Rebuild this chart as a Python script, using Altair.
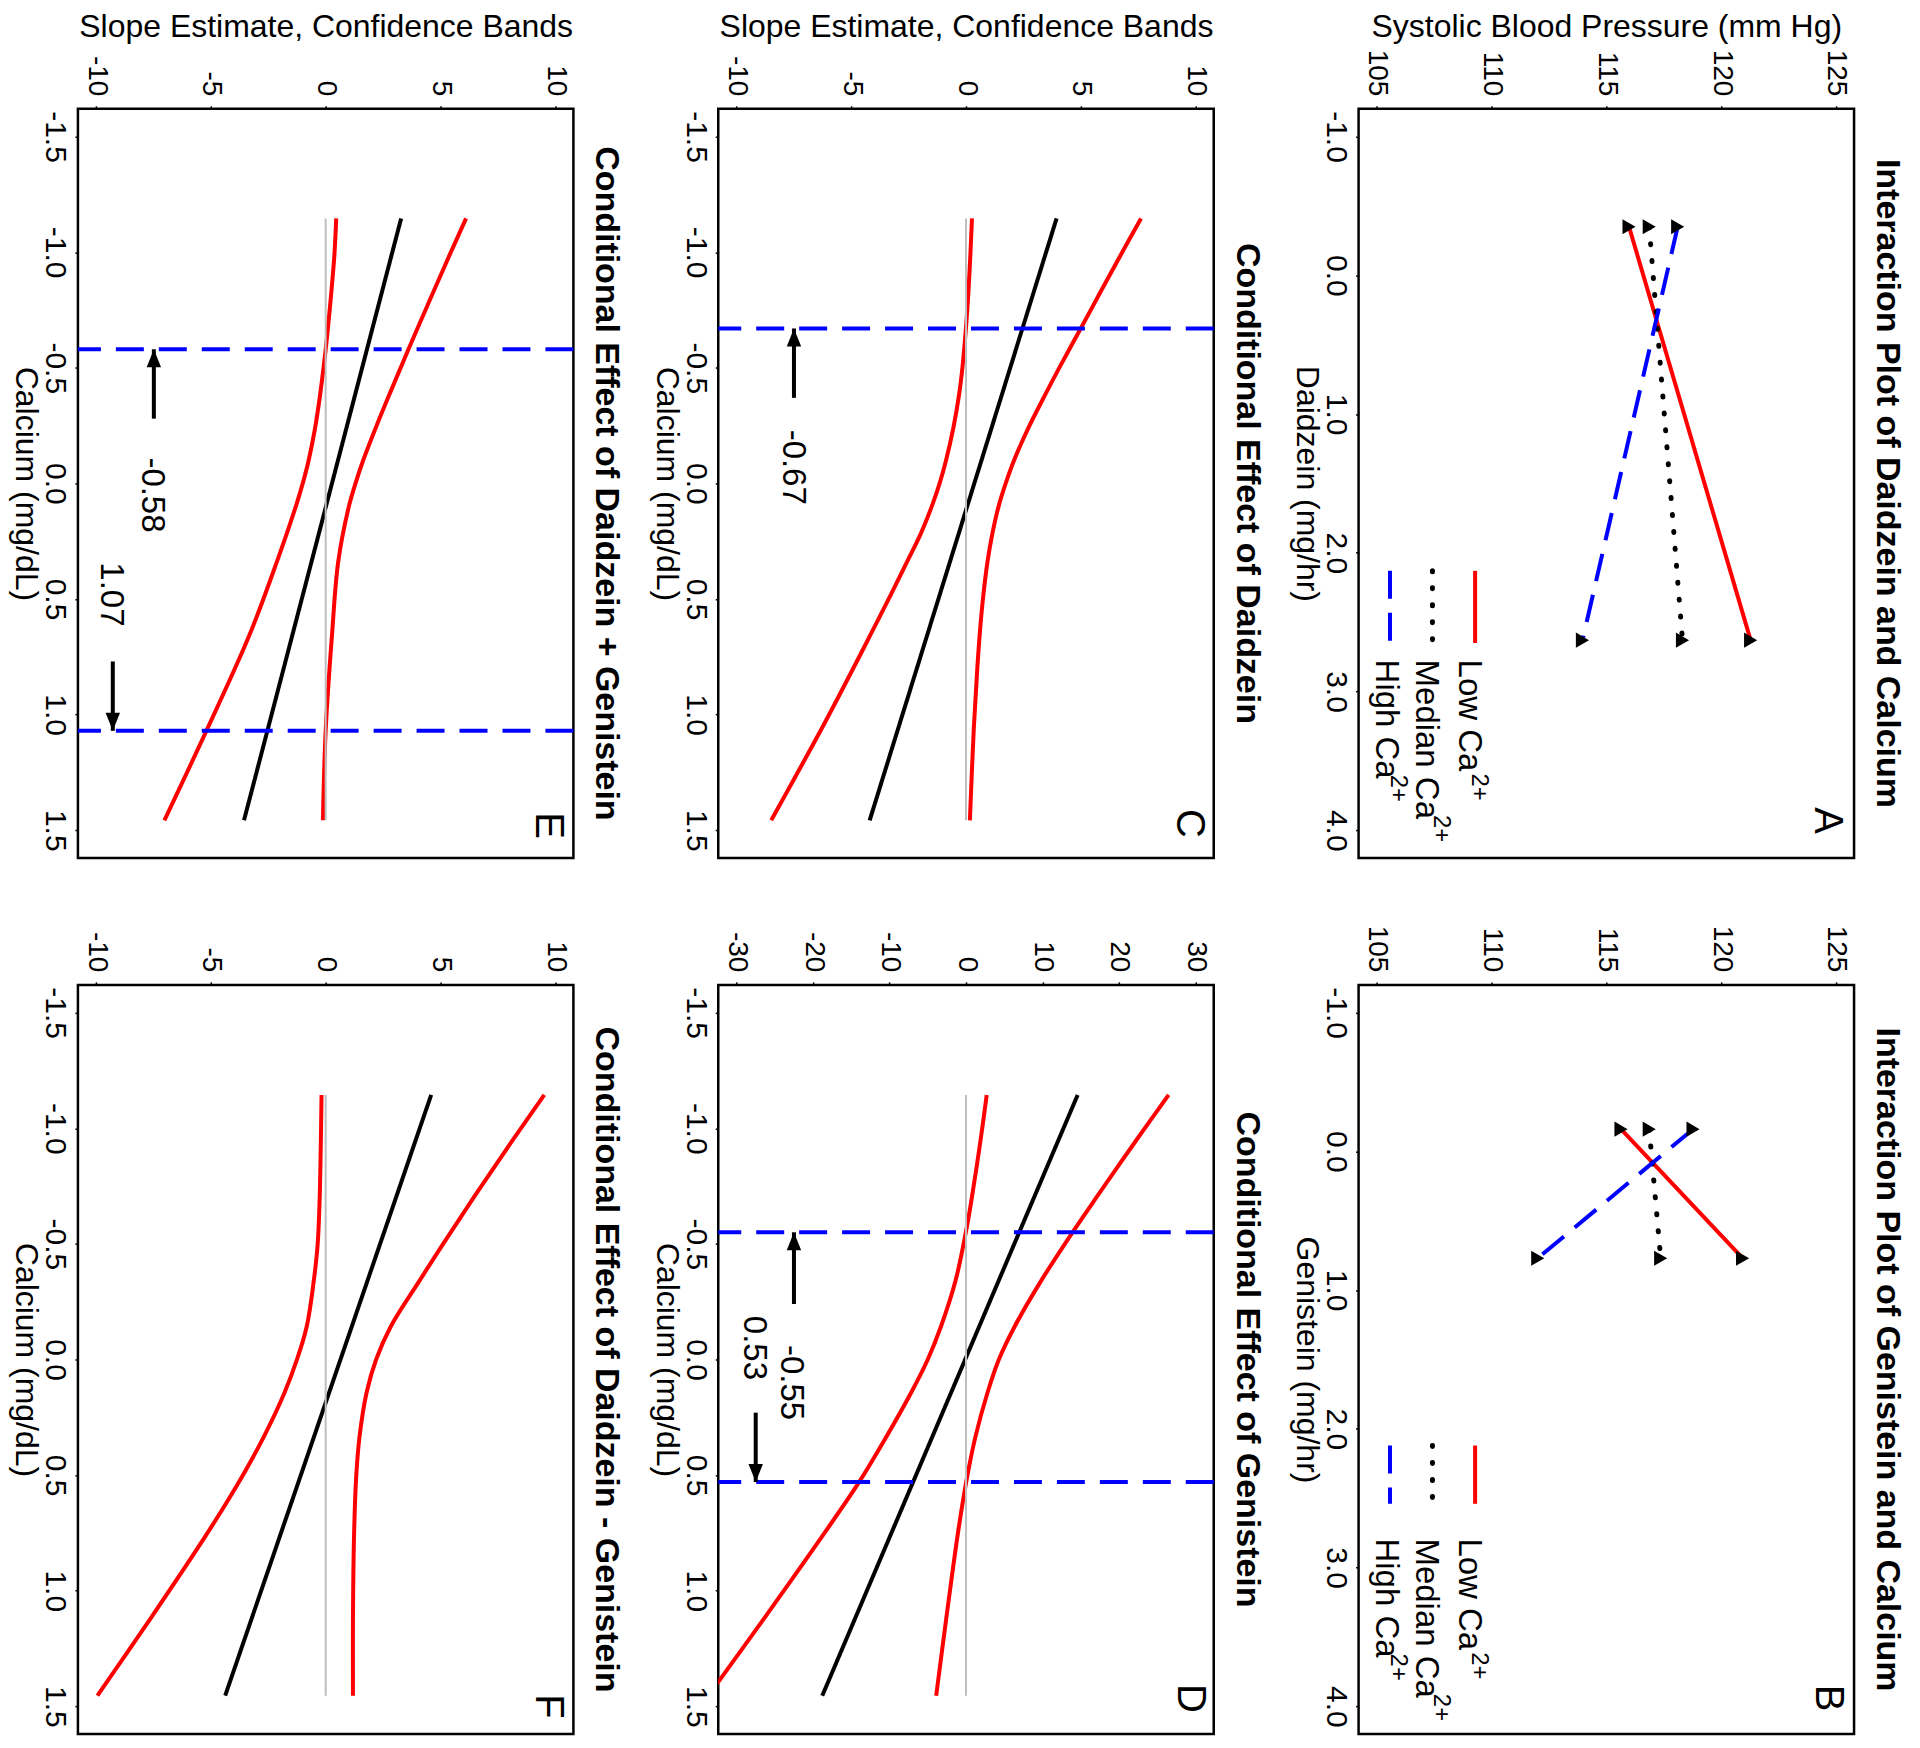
import altair as alt
import pandas as pd

# ---------------- data ----------------
# Panel A: Interaction plot of Daidzein and Calcium (SBP, mm Hg)
A_DOSE = [-0.35, 2.63]
A_LOW = [115.99, 121.29]
A_MED = [116.87, 118.32]
A_HIGH = [118.11, 113.96]
# Panel B: Interaction plot of Genistein and Calcium
B_DOSE = [-0.16, 0.77]
B_LOW = [115.64, 120.94]
B_MED = [116.87, 117.37]
B_HIGH = [118.78, 112.01]

SBP_TICKS = [105, 110, 115, 120, 125]
DOSE_TICKS = [-1.0, 0.0, 1.0, 2.0, 3.0, 4.0]
CAL_TICKS = [-1.5, -1.0, -0.5, 0.0, 0.5, 1.0, 1.5]
SLOPE10_TICKS = [-10, -5, 0, 5, 10]
SLOPE30_TICKS = [-30, -20, -10, 0, 10, 20, 30]

# legend (drawn in data coordinates of panels A / B)
LEG_LABELS = ["Low Ca", "Median Ca", "High Ca"]
LEG_SUP = ["2+", "2+", "2+"]
LEG_SBP = [109.28, 107.42, 105.57]
LEG_TEXT_SBP = [109.0, 107.16, 105.39]
LEG_SUP_SBP = [109.45, 107.8, 105.92]
A_LEG_START, A_LEG_END, A_LEG_TEXT = 2.13, 2.65, 2.77
A_LEG_SUP_POS = [3.59, 3.89, 3.6]
B_LEG_START, B_LEG_END, B_LEG_TEXT = 2.12, 2.54, 2.79
B_LEG_SUP_POS = [3.61, 3.91, 3.62]

# Panel C: conditional effect of Daidzein
C_CAL = [-1.146, -0.987, -0.82, -0.675, -0.506, -0.385, -0.24, -0.096, 0.0, 0.096, 0.217, 0.337, 0.48, 0.65, 0.82, 1.06, 1.457]
C_UP = [7.63, 6.74, 5.82, 5.03, 4.1, 3.46, 2.72, 2.08, 1.73, 1.43, 1.15, 0.94, 0.76, 0.6, 0.48, 0.34, 0.17]
C_LO = [0.26, 0.19, 0.1, 0.0, -0.15, -0.3, -0.55, -0.88, -1.15, -1.48, -1.97, -2.56, -3.27, -4.14, -5.02, -6.29, -8.49]
C_EST_CAL = [-1.146, 1.457]
C_EST = [3.95, -4.2]
C_VLINES = [-0.67]
C_ARROW_V, C_ARROW_FROM, C_ARROW_TO, C_ARROW_DIR = [-7.5], [-0.37], [-0.67], ["up"]
C_NOTE_T, C_NOTE_V, C_NOTE_C = ["-0.67"], [-7.55], [-0.07]

# Panel D: conditional effect of Genistein
D_CAL = [-1.144, -0.945, -0.703, -0.553, -0.339, -0.145, 0.0, 0.145, 0.339, 0.526, 0.75, 1.115, 1.454]
D_UP = [26.5, 22.2, 17.1, 14.0, 9.8, 6.4, 4.3, 2.8, 1.2, 0.05, -1.05, -2.56, -3.9]
D_LO = [2.71, 1.89, 0.78, 0.0, -1.38, -3.25, -5.0, -7.2, -10.5, -13.9, -18.5, -26.3, -33.7]
D_EST_CAL = [-1.144, 1.454]
D_EST = [14.6, -18.8]
D_VLINES = [-0.55, 0.53]
D_ARROW_V, D_ARROW_FROM, D_ARROW_TO, D_ARROW_DIR = [-22.5, -27.5], [-0.24, 0.23], [-0.55, 0.53], ["up", "down"]
D_NOTE_T, D_NOTE_V, D_NOTE_C = ["-0.55", "0.53"], [-22.9, -27.75], [0.1, -0.05]

# Panel E: conditional effect of Daidzein + Genistein
E_CAL = [-1.146, -0.987, -0.82, -0.578, -0.385, -0.24, -0.096, 0.0, 0.096, 0.337, 0.65, 1.07, 1.457]
E_UP = [6.12, 5.4, 4.66, 3.6, 2.78, 2.18, 1.62, 1.3, 1.02, 0.55, 0.28, 0.0, -0.12]
E_LO = [0.46, 0.38, 0.24, 0.0, -0.24, -0.46, -0.75, -1.0, -1.29, -2.12, -3.3, -5.2, -7.03]
E_EST_CAL = [-1.146, 1.457]
E_EST = [3.29, -3.56]
E_VLINES = [-0.58, 1.07]
E_ARROW_V, E_ARROW_FROM, E_ARROW_TO, E_ARROW_DIR = [-7.49, -9.28], [-0.28, 0.77], [-0.58, 1.07], ["up", "down"]
E_NOTE_T, E_NOTE_V, E_NOTE_C = ["-0.58", "1.07"], [-7.58, -9.35], [0.05, 0.48]

# Panel F: conditional effect of Daidzein - Genistein
F_CAL = [-1.144, -0.945, -0.703, -0.497, -0.339, -0.145, 0.0, 0.145, 0.339, 0.509, 0.75, 1.115, 1.454]
F_UP = [9.53, 8.13, 6.47, 5.1, 4.08, 2.85, 2.2, 1.78, 1.47, 1.33, 1.24, 1.19, 1.19]
F_LO = [-0.18, -0.21, -0.26, -0.35, -0.52, -0.82, -1.25, -1.8, -2.72, -3.66, -5.15, -7.6, -9.95]
F_EST_CAL = [-1.144, 1.454]
F_EST = [4.6, -4.38]

# ---------------- styling ----------------
FONT = "Liberation Sans"
RED, BLUE, GRAY = "#FF0000", "#0000FF", "#BEBEBE"
W, H = 496, 750
UP_HEAD = "M0,0L-0.4,1L0.4,1Z"
DOWN_HEAD = "M0,0L-0.4,-1L0.4,-1Z"


def lab_expr(fmt):
    return ("datum.value < 0 ? '-' + format(-datum.value, '%s') : format(datum.value, '%s')" % (fmt, fmt))


def x_enc(dom, ticks, fmt, title):
    return alt.X("v:Q", scale=alt.Scale(domain=dom, nice=False, zero=False),
                 axis=alt.Axis(orient="top", values=ticks, labelExpr=lab_expr(fmt),
                               labelAngle=90, labelAlign="right", labelBaseline="middle",
                               labelFont=FONT, labelFontSize=28, labelColor="black", labelPadding=10,
                               labelOverlap=False, labelFlush=False,
                               tickSize=3, tickWidth=1.5, tickColor="black", domain=False, grid=False,
                               title=title, titleFont=FONT, titleFontSize=32, titleFontWeight="normal",
                               titleColor="black", titleAngle=0, titleBaseline="middle", titleY=-82))


def y_enc(dom, ticks, title):
    return alt.Y("c:Q", scale=alt.Scale(domain=dom, nice=False, zero=False, reverse=True),
                 axis=alt.Axis(orient="left", values=ticks, labelExpr=lab_expr(".1f"),
                               labelAngle=90, labelAlign="center", labelBaseline="top",
                               labelFont=FONT, labelFontSize=30, labelColor="black", labelPadding=5,
                               labelOverlap=False, labelFlush=False,
                               tickSize=3, tickWidth=1.5, tickColor="black", domain=False, grid=False,
                               title=title, titleFont=FONT, titleFontSize=32, titleFontWeight="normal",
                               titleColor="black", titleAngle=90, titleBaseline="middle",
                               titleAlign="center", titleX=-52))


def title_layer(text):
    # panel title, written top-to-bottom just right of the plot frame
    return alt.Chart(pd.DataFrame({"t": [text]})).mark_text(
        angle=90, align="center", baseline="alphabetic", font=FONT, fontSize=34,
        fontWeight="bold", color="black"
    ).encode(x=alt.value(W + 23), y=alt.value(H / 2), text="t:N")


def letter_layer(X, Y, letter, lv, lc):
    return alt.Chart(pd.DataFrame({"v": [lv], "c": [lc], "t": [letter]})).mark_text(
        angle=90, align="center", baseline="middle", font=FONT, fontSize=40, color="black"
    ).encode(x=X, y=Y, text="t:N")


def curve_panel(cal, up, lo, est_cal, est, dom, ticks, title, letter, lv, lc, top_title,
                vlines=None, arrow=None, notes=None):
    X = x_enc(dom, ticks, "d", "Slope Estimate, Confidence Bands" if top_title else None)
    Y = y_enc([-1.62, 1.62], CAL_TICKS, "Calcium (mg/dL)")
    n = len(cal)
    bands = pd.DataFrame({"c": list(cal) + list(cal), "v": list(up) + list(lo),
                          "b": ["up"] * n + ["lo"] * n})
    layers = [
        alt.Chart(bands).mark_line(color=RED, strokeWidth=4, clip=True, interpolate="catmull-rom").encode(
            x=X, y=Y, detail="b:N", order="c:Q"),
        alt.Chart(pd.DataFrame({"c": est_cal, "v": est})).mark_line(color="black", strokeWidth=4, clip=True).encode(
            x=X, y=Y, order="c:Q"),
        alt.Chart(pd.DataFrame({"c": [cal[0]], "c2": [cal[-1]], "v": [0]})).mark_rule(
            color=GRAY, strokeWidth=2).encode(x=X, y=Y, y2="c2:Q"),
    ]
    if vlines:
        layers.append(alt.Chart(pd.DataFrame({"c": vlines})).mark_rule(
            color=BLUE, strokeWidth=4, strokeDash=[28, 15]).encode(y=Y))
    if arrow:
        av, afrom, ato, adir = arrow
        adf = pd.DataFrame({"v": av, "c": afrom, "c2": ato})
        layers.append(alt.Chart(adf).mark_rule(color="black", strokeWidth=4).encode(x=X, y=Y, y2="c2:Q"))
        hdf = pd.DataFrame({"v": av, "c": ato, "dir": adir})
        layers.append(alt.Chart(hdf).mark_point(filled=True, color="black", opacity=1, size=1300, strokeWidth=0).encode(
            x=X, y=Y, shape=alt.Shape("dir:N", scale=alt.Scale(domain=["up", "down"], range=[UP_HEAD, DOWN_HEAD]),
                                      legend=None)))
    if notes:
        nt, nv, nc = notes
        layers.append(alt.Chart(pd.DataFrame({"t": nt, "v": nv, "c": nc})).mark_text(
            angle=90, align="center", baseline="middle", font=FONT, fontSize=33, color="black"
        ).encode(x=X, y=Y, text="t:N"))
    layers.append(letter_layer(X, Y, letter, lv, lc))
    layers.append(title_layer(title))
    return alt.layer(*layers).properties(width=W, height=H)


def inter_panel(dose, low, med, high, title, xlab, letter, lv, lc, top_title,
                leg_start, leg_end, leg_text, leg_sup):
    X = x_enc([104.2, 125.8], SBP_TICKS, "d", "Systolic Blood Pressure (mm Hg)" if top_title else None)
    Y = y_enc([-1.2, 4.2], DOSE_TICKS, xlab)

    def df(vals):
        return pd.DataFrame({"c": dose, "v": vals})

    pts = pd.DataFrame({"c": dose * 3, "v": low + med + high})
    styles = [dict(color=RED, strokeWidth=4),
              dict(color="black", strokeWidth=5, strokeDash=[1, 16], strokeCap="round"),
              dict(color=BLUE, strokeWidth=4, strokeDash=[28, 14])]
    layers = []
    for vals, st in zip([low, med, high], styles):
        layers.append(alt.Chart(df(vals)).mark_line(**st).encode(x=X, y=Y, order="c:Q"))
    layers.append(alt.Chart(pts).mark_point(shape="triangle-right", filled=True, color="black",
                                            size=230, opacity=1).encode(x=X, y=Y))
    for sbp, st in zip(LEG_SBP, styles):
        layers.append(alt.Chart(pd.DataFrame({"v": [sbp], "c": [leg_start], "c2": [leg_end]})).mark_rule(
            **st).encode(x=X, y=Y, y2="c2:Q"))
    layers.append(alt.Chart(pd.DataFrame({"v": LEG_TEXT_SBP, "c": [leg_text] * 3, "t": LEG_LABELS})).mark_text(
        angle=90, align="left", baseline="middle", font=FONT, fontSize=33, color="black").encode(
        x=X, y=Y, text="t:N"))
    layers.append(alt.Chart(pd.DataFrame({"v": LEG_SUP_SBP, "c": leg_sup, "t": LEG_SUP})).mark_text(
        angle=90, align="left", baseline="middle", font=FONT, fontSize=24, color="black").encode(
        x=X, y=Y, text="t:N"))
    layers.append(letter_layer(X, Y, letter, lv, lc))
    layers.append(title_layer(title))
    return alt.layer(*layers).properties(width=W, height=H)


panel_A = inter_panel(A_DOSE, A_LOW, A_MED, A_HIGH, "Interaction Plot of Daidzein and Calcium",
                      "Daidzein (mg/hr)", "A", 124.6, 3.93, True,
                      A_LEG_START, A_LEG_END, A_LEG_TEXT, A_LEG_SUP_POS)
panel_B = inter_panel(B_DOSE, B_LOW, B_MED, B_HIGH, "Interaction Plot of Genistein and Calcium",
                      "Genistein (mg/hr)", "B", 124.65, 3.94, False,
                      B_LEG_START, B_LEG_END, B_LEG_TEXT, B_LEG_SUP_POS)
panel_C = curve_panel(C_CAL, C_UP, C_LO, C_EST_CAL, C_EST, [-10.8, 10.8], SLOPE10_TICKS,
                      "Conditional Effect of Daidzein", "C", 9.7, 1.47, True, C_VLINES,
                      (C_ARROW_V, C_ARROW_FROM, C_ARROW_TO, C_ARROW_DIR), (C_NOTE_T, C_NOTE_V, C_NOTE_C))
panel_D = curve_panel(D_CAL, D_UP, D_LO, D_EST_CAL, D_EST, [-32.4, 32.4], SLOPE30_TICKS,
                      "Conditional Effect of Genistein", "D", 29.3, 1.466, False, D_VLINES,
                      (D_ARROW_V, D_ARROW_FROM, D_ARROW_TO, D_ARROW_DIR), (D_NOTE_T, D_NOTE_V, D_NOTE_C))
panel_E = curve_panel(E_CAL, E_UP, E_LO, E_EST_CAL, E_EST, [-10.8, 10.8], SLOPE10_TICKS,
                      "Conditional Effect of Daidzein + Genistein", "E", 9.68, 1.48, True, E_VLINES,
                      (E_ARROW_V, E_ARROW_FROM, E_ARROW_TO, E_ARROW_DIR), (E_NOTE_T, E_NOTE_V, E_NOTE_C))
panel_F = curve_panel(F_CAL, F_UP, F_LO, F_EST_CAL, F_EST, [-10.8, 10.8], SLOPE10_TICKS,
                      "Conditional Effect of Daidzein - Genistein", "F", 9.68, 1.5, False)

chart = alt.concat(panel_E, panel_C, panel_A, panel_F, panel_D, panel_B, columns=3,
                   spacing={"row": 127, "column": 145}, bounds="flush").properties(
    padding={"left": 0, "top": 0, "right": 6, "bottom": 0}
).configure(font=FONT).configure_view(stroke="black", strokeWidth=2.5)

chart.save("out.html", embed_options={"renderer": "svg", "actions": False})
